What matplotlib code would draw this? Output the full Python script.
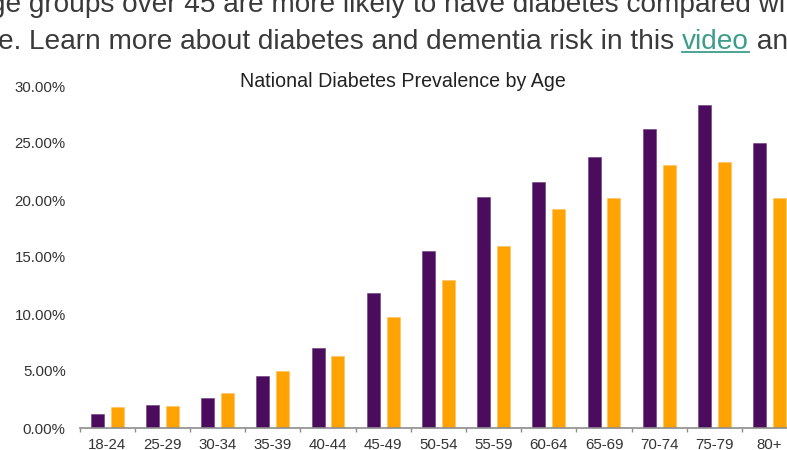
import matplotlib.pyplot as plt
import numpy as np

# data (percent)
ages = ["18-24", "25-29", "30-34", "35-39", "40-44", "45-49", "50-54",
        "55-59", "60-64", "65-69", "70-74", "75-79", "80+"]
purple_vals = [1.2, 2.0, 2.6, 4.6, 7.0, 11.8, 15.5, 20.3, 21.6, 23.8, 26.2, 28.3, 25.0]
orange_vals = [1.8, 1.9, 3.1, 5.0, 6.3, 9.7, 13.0, 16.0, 19.2, 20.2, 23.1, 23.3, 20.2]
yticks = [0, 5, 10, 15, 20, 25, 30]

plt.rcParams['font.family'] = ['Liberation Sans', 'DejaVu Sans']

W, H = 787, 450
fig = plt.figure(figsize=(W / 100, H / 100), dpi=100)

# page text above the chart (cut off like the screenshot)
body = '#3a3a3a'
fs_body = 20.2
fig.text(-10 / W, 1 - 12 / H, "ge groups over 45 are more likely to have diabetes compared with",
         fontsize=fs_body, color=body, va='baseline', ha='left')

renderer = fig.canvas.get_renderer()
t1 = fig.text(-2 / W, 1 - 49 / H, "e. Learn more about diabetes and dementia risk in this ",
              fontsize=fs_body, color=body, va='baseline', ha='left')
bb = t1.get_window_extent(renderer)
t2 = fig.text(bb.x1 / W, 1 - 49 / H, "video", fontsize=fs_body, color='#3c9d8c',
              va='baseline', ha='left')
bb2 = t2.get_window_extent(renderer)
fig.add_artist(plt.Line2D([bb2.x0 / W, bb2.x1 / W], [1 - 52 / H, 1 - 52 / H],
                          color='#3c9d8c', lw=1.3, transform=fig.transFigure))
fig.text(bb2.x1 / W, 1 - 49 / H, " and", fontsize=fs_body, color=body,
         va='baseline', ha='left')

# chart
ax = fig.add_axes([79.6 / W, 22 / H, 13 * 55.2 / W, 342 / H])
x = np.arange(len(ages))
bw = 0.236
off = 0.18
ax.bar(x - off, purple_vals, bw, color='#4b0c5e', edgecolor='#6a3a7a', linewidth=0.4)
ax.bar(x + off, orange_vals, bw, color='#ffa300', edgecolor='#ffc060', linewidth=0.4)

ax.set_xlim(-0.5, len(ages) - 0.5)
ax.set_ylim(0, 30)
ax.set_yticks(yticks)
ax.set_yticklabels([f"{v:.2f}%" for v in yticks])
ax.set_xticks(x)
ax.set_xticklabels(ages)
ax.set_xticks(np.arange(len(ages) + 1) - 0.5, minor=True)

for s in ['left', 'top', 'right']:
    ax.spines[s].set_visible(False)
ax.spines['bottom'].set_color('#8c8c8c')
ax.spines['bottom'].set_linewidth(1.2)

ax.tick_params(axis='y', length=0, pad=10, labelsize=10.8, labelcolor='#333333')
ax.tick_params(axis='x', which='major', length=0, pad=7, labelsize=10.8, labelcolor='#333333')
ax.tick_params(axis='x', which='minor', length=3, width=1, color='#8c8c8c')

fig.text(403 / W, 1 - 87 / H, "National Diabetes Prevalence by Age", fontsize=14.1,
         color='#222222', ha='center', va='baseline')

fig.savefig('out.png', dpi=100)
